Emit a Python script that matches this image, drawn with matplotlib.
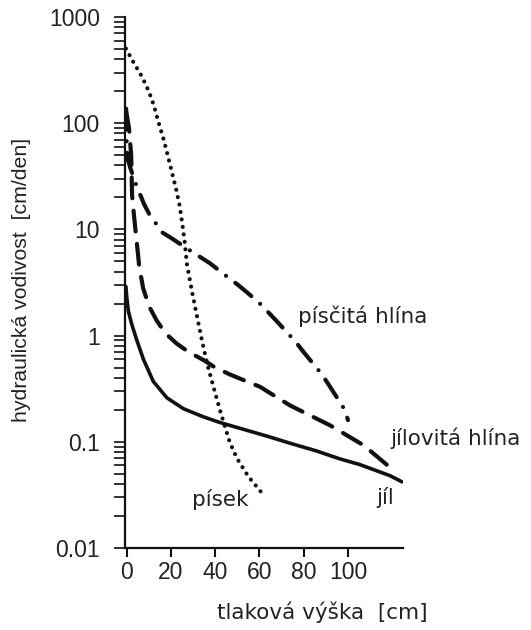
import matplotlib
matplotlib.use("Agg")
import matplotlib.pyplot as plt
from matplotlib.ticker import LogLocator, NullFormatter, FixedLocator, FixedFormatter

plt.rcParams['font.family'] = ['Liberation Sans', 'DejaVu Sans']

# ---- data ----
# jíl (clay) - solid
jil_x = [-0.4, 0.0, 0.7, 2.2, 4.5, 7.5, 12.0, 18.1, 25.6, 34.6, 42.1, 55, 64.7, 73.8, 85.8, 96.4, 105.4, 119, 124.4]
jil_y = [2.9, 2.3, 1.71, 1.29, 0.91, 0.60, 0.37, 0.26, 0.205, 0.172, 0.152, 0.127, 0.111, 0.097, 0.082, 0.069, 0.061, 0.048, 0.042]

# jílovitá hlína (clay loam) - dashed
jh_x = [-0.3, 1.0, 2.0, 2.4, 3.2, 3.9, 5.1, 5.6, 7.4, 10, 13.5, 17.5, 22.6, 28, 34.6, 40, 46.7, 55.7, 60.2, 73.8, 91.9, 107, 117.5, 120.3]
jh_y = [130, 90, 50, 21, 14, 10, 5.8, 4.5, 2.8, 1.9, 1.39, 1.05, 0.84, 0.7, 0.59, 0.5, 0.43, 0.36, 0.33, 0.22, 0.143, 0.093, 0.061, 0.056]

# písčitá hlína (sandy loam) - dash-dot
ph_x = [-0.3, 0.0, 0.3, 1.6, 4.6, 6.6, 7.7, 10.5, 13.7, 15.9, 19.7, 25, 30.3, 35, 37.6, 45.3, 50.3, 54.4, 60.2, 64.7, 67.9, 73.8, 77.4, 79.7, 88.3, 89.6, 91.9, 98.6, 100]
ph_y = [137, 60, 47, 38, 25, 20, 17.5, 13.5, 11, 9.4, 8.4, 7.1, 6.0, 5.2, 4.8, 3.6, 3.0, 2.55, 2.0, 1.6, 1.36, 1.0, 0.82, 0.71, 0.43, 0.39, 0.33, 0.2, 0.16]

# písek (sand) - dotted
pis_x = [-0.4, 3.1, 6.9, 9.9, 12.2, 14.4, 16.7, 18.6, 20.5, 22.3, 23.9, 25.0, 26.2, 27.2, 29.5, 31.8, 34, 36.3, 39, 42.1, 43.5, 46.5, 49.8, 55, 61.6]
pis_y = [505, 372, 274, 201, 148, 101, 70, 49, 34, 24, 16.7, 11.7, 7.6, 4.7, 2.6, 1.5, 0.9, 0.55, 0.34, 0.2, 0.16, 0.1, 0.07, 0.047, 0.032]

x_ticks = [0, 20, 40, 60, 80, 100]
x_tick_labels = ['0', '20', '40', '60', '80', '100']
y_ticks = [0.01, 0.1, 1, 10, 100, 1000]
y_tick_labels = ['0.01', '0.1', '1', '10', '100', '1000']

fig = plt.figure(figsize=(5.31, 6.30), dpi=100)
W, H = 531, 630
ax = fig.add_axes([125 / W, (H - 548) / H, (403 - 125) / W, (548 - 17) / H])

ink = '#111111'
lw = 3.0
ax.plot(jil_x, jil_y, color=ink, lw=2.6, solid_capstyle='round', solid_joinstyle='round')
ax.plot(jh_x, jh_y, color=ink, lw=lw, linestyle=(0, (5, 3)), dash_capstyle='round', dash_joinstyle='round')
ax.plot(ph_x, ph_y, color=ink, lw=lw, linestyle=(0, (5, 2.8, 0.01, 2.8)), dash_capstyle='round', dash_joinstyle='round')
ax.plot(pis_x, pis_y, color=ink, lw=lw, linestyle=(0, (0.01, 1.8)), dash_capstyle='round')

ax.set_yscale('log')
ax.set_xlim(-0.8, 124.9)
ax.set_ylim(0.01, 1000)

ax.xaxis.set_major_locator(FixedLocator(x_ticks))
ax.xaxis.set_major_formatter(FixedFormatter(x_tick_labels))
ax.yaxis.set_major_locator(FixedLocator(y_ticks))
ax.yaxis.set_major_formatter(FixedFormatter(y_tick_labels))
ax.yaxis.set_minor_locator(LogLocator(base=10, subs=range(2, 10), numticks=20))
ax.yaxis.set_minor_formatter(NullFormatter())

for s in ['top', 'right']:
    ax.spines[s].set_visible(False)
for s in ['left', 'bottom']:
    ax.spines[s].set_linewidth(1.6)
    ax.spines[s].set_color(ink)

ax.tick_params(axis='y', which='both', direction='out', length=8, width=1.2,
               pad=10, labelsize=16.5, color=ink, labelcolor='#222222')
ax.tick_params(axis='x', which='major', direction='out', length=6.5, width=1.5,
               pad=3, labelsize=16.5, color=ink, labelcolor='#222222')

txt = '#222222'
fig.text(22 / W, 1 - 280 / H, 'hydraulická vodivost  [cm/den]', rotation=90,
         ha='center', va='center', fontsize=15.3, color=txt)
fig.text(322 / W, 1 - 612 / H, 'tlaková výška  [cm]', ha='center', va='center',
         fontsize=15.5, color=txt, family=['DejaVu Sans'])

fig.text(298 / W, 1 - 316 / H, 'písčitá hlína', ha='left', va='center',
         fontsize=15.5, color=txt, family=['DejaVu Sans'])
fig.text(390 / W, 1 - 438 / H, 'jílovitá hlína', ha='left', va='center',
         fontsize=15.5, color=txt, family=['DejaVu Sans'])
fig.text(376 / W, 1 - 497 / H, 'jíl', ha='left', va='center',
         fontsize=15.5, color=txt, family=['DejaVu Sans'])
fig.text(192 / W, 1 - 499 / H, 'písek', ha='left', va='center',
         fontsize=15.5, color=txt, family=['DejaVu Sans'])

fig.savefig('out.png', dpi=100, facecolor='white')
